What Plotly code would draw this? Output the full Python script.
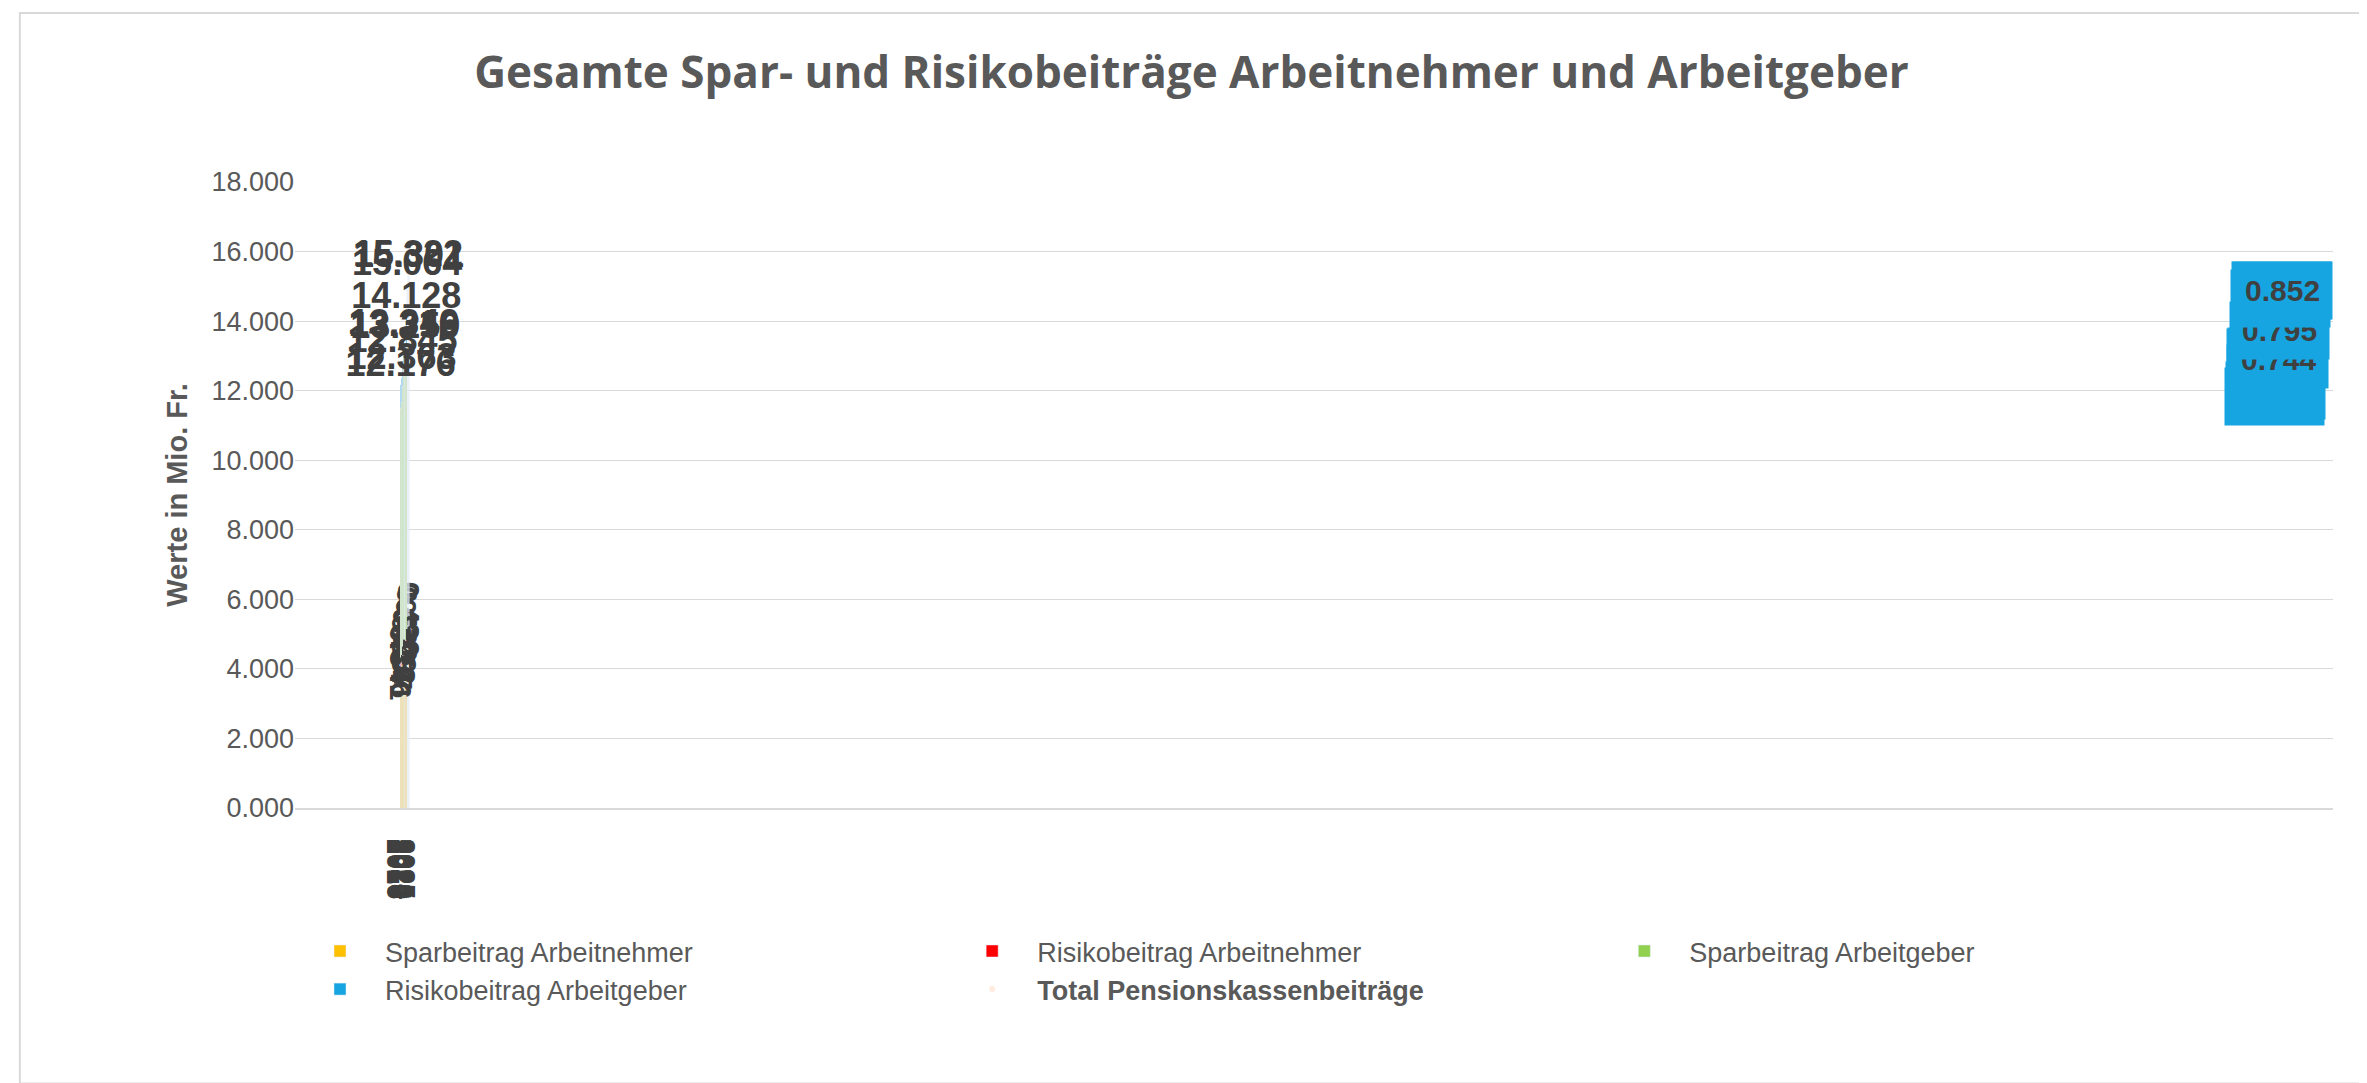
import plotly.graph_objects as go

years = ["2016","2017","2018","2019","2020","2021","2022","2023","2024","2025"]
spar_an = [4.000,4.058,4.295,4.480,4.484,4.458,4.756,5.083,5.202,5.224]
risiko_an = [0.341,0.346,0.357,0.377,0.374,0.372,0.399,0.423,0.430,0.426]
spar_ag = [7.156,7.269,7.482,7.719,7.746,7.685,8.178,8.707,8.830,8.799]
risiko_ag = [0.679,0.690,0.711,0.740,0.745,0.744,0.795,0.851,0.860,0.852]
total = [12.176,12.363,12.845,13.316,13.349,13.259,14.128,15.064,15.322,15.301]
y_ticks = [0,2,4,6,8,10,12,14,16,18]

lab = dict(family="Liberation Sans, Arial", size=30, color="#404040")
fig = go.Figure()
fig.add_bar(x=years, y=spar_an, name="Sparbeitrag Arbeitnehmer", marker_color="#FFC000",
            text=spar_an, texttemplate="<b>%{y:.3f}</b>", textposition="inside",
            insidetextanchor="middle", textfont=lab)
fig.add_bar(x=years, y=risiko_an, name="Risikobeitrag Arbeitnehmer", marker_color="#FF0000",
            text=risiko_an, texttemplate="<b>%{y:.3f}</b>", textposition="inside",
            insidetextanchor="middle", textfont=lab, constraintext="none")
fig.add_bar(x=years, y=spar_ag, name="Sparbeitrag Arbeitgeber", marker_color="#92D050",
            text=spar_ag, texttemplate="<b>%{y:.3f}</b>", textposition="inside",
            insidetextanchor="middle", textfont=lab)
fig.add_bar(x=years, y=risiko_ag, name="Risikobeitrag Arbeitgeber", marker_color="#16A5E0")
fig.add_scatter(x=years, y=[0]*len(years), mode="markers", marker=dict(opacity=0),
                name="<b>Total Pensionskassenbeiträge</b>")
fig.add_scatter(x=years, y=total, mode="text", text=[f"<b>{v:.3f}</b>" for v in total],
                textposition="top center", textfont=dict(family="Liberation Sans, Arial", size=36, color="#404040"),
                showlegend=False, cliponaxis=False)

for i, yr in enumerate(years):
    base = spar_an[i] + risiko_an[i] + spar_ag[i]
    fig.add_annotation(x=yr, y=base + risiko_ag[i]/2, text=f"<b>{risiko_ag[i]:.3f}</b>",
                       showarrow=False, bgcolor="#16A5E0", borderpad=12,
                       font=dict(family="Liberation Sans, Arial", size=30, color="#404040"))

fig.update_layout(
    barmode="stack", bargap=0.32, width=2367, height=1083,
    paper_bgcolor="white", plot_bgcolor="white",
    margin=dict(l=287, r=42, t=174, b=283),
    title=dict(text="<b>Gesamte Spar- und Risikobeiträge Arbeitnehmer und Arbeitgeber</b>",
               x=0.5, xanchor="center", y=0.955,
               font=dict(family="Open Sans, Arial", size=44, color="#595959")),
    font=dict(family="Liberation Sans, Arial", color="#595959"),
    legend=dict(orientation="h", x=0.0, y=-0.19, yanchor="top", entrywidth=0.32,
                entrywidthmode="fraction", traceorder="normal",
                font=dict(size=27, color="#595959"), itemwidth=80),
    shapes=[dict(type="rect", xref="paper", yref="paper", x0=-0.135, x1=1.018, y0=-0.44, y1=1.27,
                 line=dict(color="#D9D9D9", width=2))],
)
fig.update_yaxes(range=[0, 18], tickvals=y_ticks, tickformat=".3f", showgrid=True,
                 gridcolor="#D9D9D9", zeroline=False,
                 tickfont=dict(size=27, color="#595959"),
                 title=dict(text="<b>Werte in Mio. Fr.</b>", font=dict(size=29, color="#595959")))
fig.update_xaxes(type="category", tickfont=dict(size=27, color="#404040"), ticklabelstandoff=10,
                 showline=True, linecolor="#D9D9D9", linewidth=2,
                 tickvals=years, ticktext=[f"<b>{y}</b>" for y in years])
fig.write_html("out.html")
